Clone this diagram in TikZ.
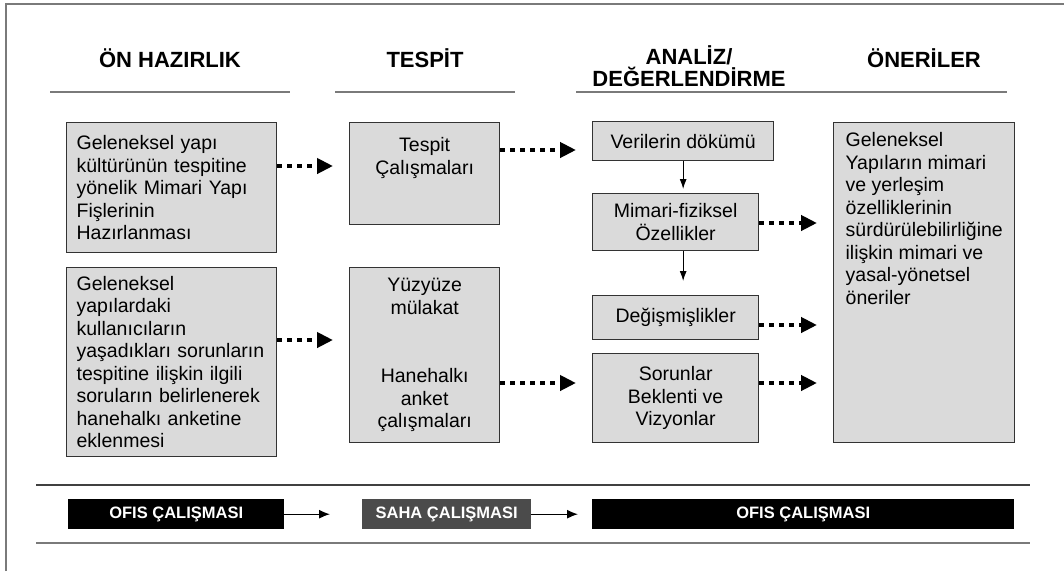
\documentclass[tikz,border=0pt]{standalone}
\usepackage{fontspec}
\setmainfont{Liberation Sans}
\usepackage{xcolor}
\usetikzlibrary{arrows.meta}
\definecolor{boxgray}{HTML}{DADADA}
\definecolor{rulegray}{HTML}{7A7A7A}
\definecolor{sahagray}{HTML}{4B4B4B}
\hyphenpenalty=10000
\exhyphenpenalty=10000

\begin{document}
\begin{tikzpicture}[x=1pt,y=-1pt]
      \useasboundingbox (0,0) rectangle (1064,571);
      \tikzset{B/.style = {draw=black!80, fill=boxgray, line width=1.3pt, anchor=north west, inner xsep=12pt, inner ysep=6pt, font=\fontsize{19.5}{22.5}\selectfont}}
      \tikzset{K/.style = {fill=black, text=white, anchor=north west, minimum height=30pt, inner sep=0pt, font=\fontsize{16.5}{18}\selectfont\bfseries}}
      \tikzset{H/.style = {inner sep=0pt, font=\fontsize{22}{26}\selectfont\bfseries}}
      \tikzset{D/.style = {draw, line width=4.5pt, dash pattern=on 5pt off 5pt, shorten >=16pt, -{Triangle[length=16pt,width=15pt]}}}
      \tikzset{E/.style = {draw, line width=1pt, -{Latex[length=10pt,width=7pt]}}}
      % frame and rules
      \draw[rulegray, line width=2pt] (6,571) -- (6,4) -- (1064,4);
      \draw[rulegray, line width=1.5pt] (50,92) -- (290,92);
      \draw[rulegray, line width=1.5pt] (335,92) -- (515,92);
      \draw[rulegray, line width=1.5pt] (576,92) -- (1007,92);
      \draw[black!75, line width=1.5pt] (36,485) -- (1030,485);
      \draw[rulegray, line width=1.5pt] (36,543) -- (1030,543);
      % headers
      \node[H, anchor=base](h0) at (170,67) {ÖN HAZIRLIK};
      \node[H, anchor=base](h1) at (425,67) {TESPİT};
      \node[H, align=center](h2) at (689,66) {ANALİZ/\\[-4pt]DEĞERLENDİRME};
      \node[H, anchor=base](h3) at (924,67) {ÖNERİLER};
      % boxes
      \node[B, inner xsep=10pt, minimum width=210pt, minimum height=130pt, text width=190pt, align=left](p0) at (66,122) {Geleneksel yapı\\kültürünün tespitine\\yönelik Mimari Yapı\\Fişlerinin\\Hazırlanması};
      \node[B, inner xsep=10pt, minimum width=210pt, minimum height=189pt, text width=190pt, align=left](p1) at (66,267) {Geleneksel\\yapılardaki\\kullanıcıların\\yaşadıkları sorunların\\tespitine ilişkin ilgili\\soruların belirlenerek\\hanehalkı anketine\\eklenmesi};
      \node[B, inner ysep=15pt, minimum width=150pt, minimum height=102pt](t0) at (349,122) {\parbox[t][72pt][t]{126pt}{\centering Tespit\\Çalışmaları}};
      \node[B, minimum width=150pt, minimum height=175pt, text width=126pt, align=center](t1) at (349,267) {Yüzyüze\\mülakat\\[46pt]Hanehalkı\\anket\\çalışmaları};
      \node[B, minimum width=181pt, minimum height=39pt, align=center](a0) at (592,121) {Verilerin dökümü};
      \node[B, minimum width=166pt, minimum height=57pt, align=center](a1) at (592,193) {Mimari-fiziksel\\Özellikler};
      \node[B, minimum width=166pt, minimum height=44pt, align=center](a2) at (592,295) {Değişmişlikler};
      \node[B, minimum width=166pt, minimum height=89pt, align=center](a3) at (592,353) {Sorunlar\\Beklenti ve\\Vizyonlar};
      \node[B, minimum width=181pt, minimum height=320pt](o0) at (833,122) {\parbox[t][300pt][t]{157pt}{\raggedright Geleneksel\\Yapıların mimari\\ve yerleşim\\özelliklerinin\\sürdürülebilirliğine\\ilişkin mimari ve\\yasal-yönetsel\\öneriler}};
      % bottom bars
      \node[K, minimum width=216pt](b0) at (68,499) {OFIS ÇALIŞMASI};
      \node[K, fill=sahagray, minimum width=169pt](b1) at (362,499) {SAHA ÇALIŞMASI};
      \node[K, minimum width=422pt](b2) at (592,499) {OFIS ÇALIŞMASI};
      % arrows
      \draw[D] (p0.east |- 0,166) to (t0.west |- 0,166);
      \draw[D] (p1.east |- 0,340) to (t1.west |- 0,340);
      \draw[D] (t0.east |- 0,150) to (a0.west |- 0,150);
      \draw[D] (t1.east |- 0,383) to (a3.west |- 0,383);
      \draw[D] (a1.east |- 0,223) to (o0.west |- 0,223);
      \draw[D] (a2.east |- 0,325) to (o0.west |- 0,325);
      \draw[D] (a3.east |- 0,383) to (o0.west |- 0,383);
      \draw[E, shorten >=4pt] (a0.south) to (a0.south |- a1.north);
      \draw[E, shorten >=14pt] (a0.south |- a1.south) to (a0.south |- a2.north);
      \draw[E, line width=1.3pt, shorten >=32pt, -{Latex[length=11pt,width=9pt]}] (b0) to (b1);
      \draw[E, line width=1.3pt, shorten >=14pt, -{Latex[length=11pt,width=9pt]}] (b1) to (b2);
\end{tikzpicture}
\end{document}
